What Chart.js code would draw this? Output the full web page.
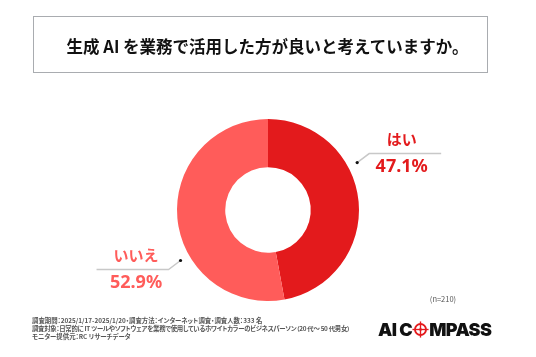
<!DOCTYPE html>
<html lang="ja">
<head>
<meta charset="utf-8">
<script src="https://cdn.jsdelivr.net/npm/chart.js@4/dist/chart.umd.min.js"></script>
<style>
  html, body { margin: 0; padding: 0; background: #fff; }
  body { width: 536px; height: 357px; position: relative; overflow: hidden;
         font-family: "Noto Sans CJK JP", "Noto Sans", sans-serif; }
  #c { position: absolute; left: 0; top: 0; }
  .titlebox { position: absolute; left: 33px; top: 16px; width: 455px; height: 57px;
              border: 1.5px solid #a9acb0; box-sizing: border-box; display: flex;
              align-items: center; justify-content: center; }
  .titlebox span { font-weight: 700; font-size: 16.5px; color: #111; padding-top: 2px; padding-left: 14px; white-space: nowrap; }
  .n { position: absolute; left: 421px; top: 293px; width: 44px; text-align: center;
       font-size: 7.5px; color: #555; }
  .notes { position: absolute; left: 32px; top: 317px; font-size: 6.4px; line-height: 8px;
           color: #555; font-weight: 700; white-space: nowrap; font-feature-settings: "palt"; }
  .notes .l2 { letter-spacing: -0.3px; }
  .logo { position: absolute; left: 378px; top: 317px; height: 24px; display: flex; align-items: center;
          font-family: "Inter", "DejaVu Sans", sans-serif; font-weight: 900; font-size: 18px;
          color: #111; letter-spacing: -0.6px; white-space: nowrap; }
</style>
</head>
<body>
<canvas id="c" width="536" height="357"></canvas>
<div class="titlebox"><span>生成 AI を業務で活用した方が良いと考えていますか。</span></div>
<div class="n">(n=210)</div>
<div class="notes">
  <div>調査期間：2025/1/17-2025/1/20・調査方法：インターネット調査・調査人数：333 名</div>
  <div class="l2">調査対象：日常的に IT ツールやソフトウェアを業務で使用しているホワイトカラーのビジネスパーソン（20 代～ 50 代男女）</div>
  <div>モニター提供元：RC リサーチデータ</div>
</div>
<div class="logo"><span>AI&nbsp;C</span><svg width="17" height="17" viewBox="-10 -10 20 20">
  <circle cx="0" cy="0" r="6.5" fill="none" stroke="#e41a1c" stroke-width="2.2"/>
  <line x1="-9.5" y1="0" x2="9.5" y2="0" stroke="#e41a1c" stroke-width="1.6"/>
  <line x1="0" y1="-9.5" x2="0" y2="9.5" stroke="#e41a1c" stroke-width="1.6"/>
  <polygon points="0,-4 1.2,0 0,4 -1.2,0" fill="#e41a1c"/>
  <polygon points="-4,0 0,1.2 4,0 0,-1.2" fill="#e41a1c"/>
</svg><span>MPASS</span></div>
<script>
const categories = ["はい", "いいえ"];
const values = [47.1, 52.9];
const valueLabels = ["47.1%", "52.9%"];
const sliceColors = ["#E31A1C", "#FF5C5A"];

const calloutPlugin = {
  id: "callout",
  afterDatasetsDraw(chart, args, opts) {
    const ctx = chart.ctx;
    const meta = chart.getDatasetMeta(0);
    meta.data.forEach((arc, i) => {
      const cx = arc.x, cy = arc.y;
      const ang = opts.angles[i] * Math.PI / 180;
      const r = arc.outerRadius + opts.gap;
      const dx = cx + Math.cos(ang) * r;
      const dy = cy + Math.sin(ang) * r;
      const side = Math.cos(ang) >= 0 ? 1 : -1;
      const vdir = Math.sin(ang) < 0 ? -1 : 1;
      const ex = dx + side * opts.elbowX;
      const ey = dy + vdir * opts.elbowY;
      const hx = ex + side * opts.lineLen;
      ctx.save();
      ctx.strokeStyle = "#c8c8c8";
      ctx.lineWidth = 1.5;
      ctx.beginPath();
      ctx.moveTo(dx, dy); ctx.lineTo(ex, ey); ctx.lineTo(hx, ey);
      ctx.stroke();
      ctx.fillStyle = "#111";
      ctx.beginPath(); ctx.arc(dx, dy, 1.6, 0, Math.PI * 2); ctx.fill();
      const tx = (ex + hx) / 2 - side * 3.5;
      ctx.fillStyle = sliceColors[i];
      ctx.textAlign = "center";
      ctx.textBaseline = "middle";
      ctx.font = "700 15px 'Noto Sans CJK JP', sans-serif";
      ctx.fillText(categories[i], tx, ey - 14);
      ctx.font = "700 18px 'Noto Sans', 'Noto Sans CJK JP', sans-serif";
      ctx.fillText(valueLabels[i], tx, ey + 13);
      ctx.restore();
    });
  }
};

new Chart(document.getElementById("c"), {
  type: "doughnut",
  data: {
    labels: categories,
    datasets: [{
      data: values,
      backgroundColor: sliceColors,
      borderWidth: 0
    }]
  },
  options: {
    responsive: false,
    animation: false,
    cutout: "47%",
    layout: { padding: { top: 119, bottom: 56, left: 177, right: 177 } },
    plugins: {
      legend: { display: false },
      tooltip: { enabled: false },
      callout: { angles: [-28, 150], gap: 10, elbowX: 12, elbowY: 9, lineLen: 72 }
    }
  },
  plugins: [calloutPlugin]
});
</script>
</body>
</html>
